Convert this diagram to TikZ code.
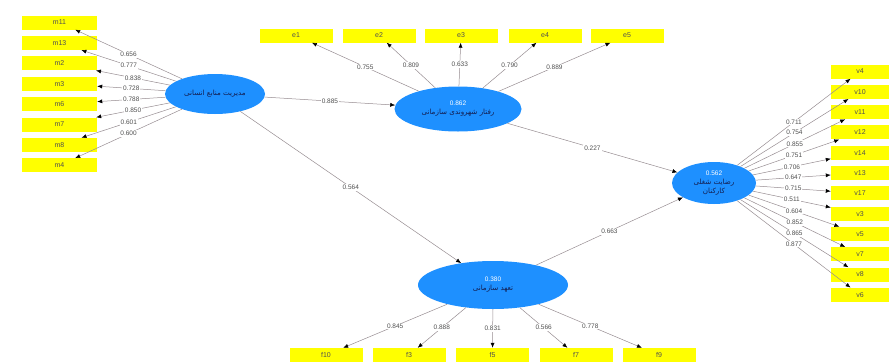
\documentclass[tikz,border=0pt]{standalone}
\usepackage{fontspec}
\setmainfont{Liberation Sans}
\newfontfamily\farsi[Script=Arabic,Scale=1.1]{DejaVu Sans}
\TeXXeTstate=1
\usetikzlibrary{shapes.geometric,arrows.meta}
\definecolor{lvblue}{RGB}{30,144,255}
\definecolor{mvyellow}{RGB}{255,255,0}
\definecolor{lblgray}{RGB}{80,80,80}
\definecolor{pathgray}{RGB}{150,140,145}
\definecolor{namenavy}{RGB}{20,30,80}

\begin{document}
\begin{tikzpicture}[x=1pt,y=-1pt]
\tikzstyle{every node}+=[inner sep=0pt]
\tikzstyle{lv}=[ellipse, fill=lvblue, align=center, font=\fontsize{6.5}{9}\selectfont]
\tikzstyle{mv}=[rectangle, fill=mvyellow, minimum height=14pt, font=\fontsize{7}{8}\selectfont, text=lblgray]
\tikzstyle{load}=[draw=pathgray, line width=0.5pt, -{Latex[length=5pt,width=4pt,color=black]}]
\tikzstyle{lbl}=[fill=white, inner sep=1pt, text=lblgray, font=\fontsize{6.5}{7}\selectfont]
\useasboundingbox (0,0) rectangle (893,362);
\node [lv, minimum width=100pt, minimum height=40pt] (hrm) at (215,94) {\textcolor{namenavy}{\farsi\beginR مدیریت منابع انسانی\endR}};
\node [lv, minimum width=127pt, minimum height=45pt] (ocb) at (458,109) {\textcolor{white}{0.862}\\\textcolor{namenavy}{\farsi\beginR رفتار شهروندی سازمانی\endR}};
\node [lv, minimum width=150pt, minimum height=48pt] (com) at (493,285) {\textcolor{white}{0.380}\\\textcolor{namenavy}{\farsi\beginR تعهد سازمانی\endR}};
\node [lv, minimum width=84pt, minimum height=42pt] (sat) at (714,183) {\textcolor{white}{0.562}\\\textcolor{namenavy}{\farsi\beginR رضایت شغلی\endR}\\\textcolor{namenavy}{\farsi\beginR کارکنان\endR}};
\node [mv, minimum width=75pt] (m11) at (59.5,22.5) {m11};
\node [mv, minimum width=75pt] (m13) at (59.5,42.9) {m13};
\node [mv, minimum width=75pt] (m2) at (59.5,63.3) {m2};
\node [mv, minimum width=75pt] (m3) at (59.5,83.7) {m3};
\node [mv, minimum width=75pt] (m6) at (59.5,104.1) {m6};
\node [mv, minimum width=75pt] (m7) at (59.5,124.5) {m7};
\node [mv, minimum width=75pt] (m8) at (59.5,144.9) {m8};
\node [mv, minimum width=75pt] (m4) at (59.5,165.3) {m4};
\node [mv, minimum width=73pt] (e1) at (296,35.5) {e1};
\node [mv, minimum width=73pt] (e2) at (379,35.5) {e2};
\node [mv, minimum width=73pt] (e3) at (461,35.5) {e3};
\node [mv, minimum width=73pt] (e4) at (545,35.5) {e4};
\node [mv, minimum width=73pt] (e5) at (627,35.5) {e5};
\node [mv, minimum width=73pt] (f10) at (326,355) {f10};
\node [mv, minimum width=73pt] (f3) at (409,355) {f3};
\node [mv, minimum width=73pt] (f5) at (492.5,355) {f5};
\node [mv, minimum width=73pt] (f7) at (576,355) {f7};
\node [mv, minimum width=73pt] (f9) at (659,355) {f9};
\node [mv, minimum width=58pt] (v4) at (860,71.5) {v4};
\node [mv, minimum width=58pt] (v10) at (860,91.8) {v10};
\node [mv, minimum width=58pt] (v11) at (860,112.1) {v11};
\node [mv, minimum width=58pt] (v12) at (860,132.4) {v12};
\node [mv, minimum width=58pt] (v14) at (860,152.7) {v14};
\node [mv, minimum width=58pt] (v13) at (860,173) {v13};
\node [mv, minimum width=58pt] (v17) at (860,193.3) {v17};
\node [mv, minimum width=58pt] (v3) at (860,213.6) {v3};
\node [mv, minimum width=58pt] (v5) at (860,233.9) {v5};
\node [mv, minimum width=58pt] (v7) at (860,254.2) {v7};
\node [mv, minimum width=58pt] (v8) at (860,274.5) {v8};
\node [mv, minimum width=58pt] (v6) at (860,294.8) {v6};
\draw [load] (hrm) -- node[lbl] {0.885} (ocb);
\draw [load] (hrm) -- node[lbl] {0.564} (com);
\draw [load] (ocb) -- node[lbl] {0.227} (sat);
\draw [load] (com) -- node[lbl] {0.663} (sat);
\draw [load] (hrm) -- node[lbl] {0.656} (m11);
\draw [load] (hrm) -- node[lbl] {0.777} (m13);
\draw [load] (hrm) -- node[lbl] {0.838} (m2);
\draw [load] (hrm) -- node[lbl] {0.728} (m3);
\draw [load] (hrm) -- node[lbl] {0.788} (m6);
\draw [load] (hrm) -- node[lbl] {0.850} (m7);
\draw [load] (hrm) -- node[lbl] {0.601} (m8);
\draw [load] (hrm) -- node[lbl] {0.600} (m4);
\draw [load] (ocb) -- node[lbl] {0.755} (e1);
\draw [load] (ocb) -- node[lbl] {0.809} (e2);
\draw [load] (ocb) -- node[lbl] {0.633} (e3);
\draw [load] (ocb) -- node[lbl] {0.790} (e4);
\draw [load] (ocb) -- node[lbl] {0.889} (e5);
\draw [load] (com) -- node[lbl] {0.845} (f10);
\draw [load] (com) -- node[lbl] {0.888} (f3);
\draw [load] (com) -- node[lbl] {0.831} (f5);
\draw [load] (com) -- node[lbl] {0.566} (f7);
\draw [load] (com) -- node[lbl] {0.778} (f9);
\draw [load] (sat) -- node[lbl] {0.711} (v4);
\draw [load] (sat) -- node[lbl] {0.754} (v10);
\draw [load] (sat) -- node[lbl] {0.855} (v11);
\draw [load] (sat) -- node[lbl] {0.751} (v12);
\draw [load] (sat) -- node[lbl] {0.706} (v14);
\draw [load] (sat) -- node[lbl] {0.647} (v13);
\draw [load] (sat) -- node[lbl] {0.715} (v17);
\draw [load] (sat) -- node[lbl] {0.511} (v3);
\draw [load] (sat) -- node[lbl] {0.604} (v5);
\draw [load] (sat) -- node[lbl] {0.852} (v7);
\draw [load] (sat) -- node[lbl] {0.865} (v8);
\draw [load] (sat) -- node[lbl] {0.877} (v6);
\end{tikzpicture}
\end{document}
